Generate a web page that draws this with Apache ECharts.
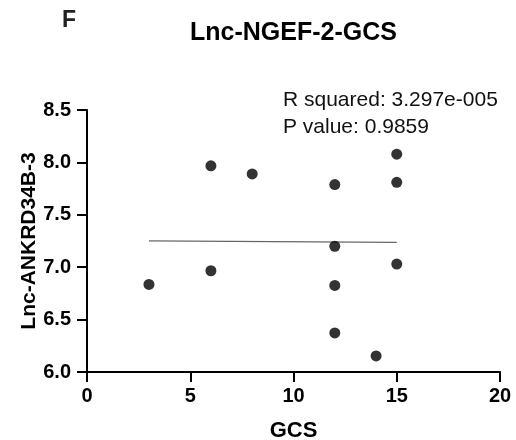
<!DOCTYPE html>
<html>
<head>
<meta charset="utf-8">
<script src="https://cdn.jsdelivr.net/npm/echarts@6/dist/echarts.min.js"></script>
<style>
html,body{margin:0;padding:0;background:#fff;}
#chart{width:516px;height:440px;}
</style>
</head>
<body>
<div id="chart"></div>
<script>
var gcsValues = [3, 6, 6, 8, 12, 12, 12, 12, 14, 15, 15, 15];
var lncValues = [6.836, 7.967, 6.966, 7.89, 7.788, 7.20, 6.826, 6.373, 6.153, 8.078, 7.81, 7.03];
var fitX = [3, 15];
var fitY = [7.252, 7.237];
var xTicks = [0, 5, 10, 15, 20];
var yTicks = [6.0, 6.5, 7.0, 7.5, 8.0, 8.5];
var panelLabel = 'F';
var chartTitle = 'Lnc-NGEF-2-GCS';
var statLines = ['R squared: 3.297e-005', 'P value: 0.9859'];
var xName = 'GCS';
var yName = 'Lnc-ANKRD34B-3';

var FONT = '"Liberation Sans", Arial, sans-serif';
var chart = echarts.init(document.getElementById('chart'), null, {renderer: 'canvas'});

var scatterData = gcsValues.map(function (x, i) { return [x, lncValues[i]]; });
var fitData = fitX.map(function (x, i) { return [x, fitY[i]]; });

function axisBase(nameSize) {
  return {
    axisLine: {show: true, lineStyle: {color: '#000', width: 2}},
    axisTick: {show: true, inside: false, length: 10, lineStyle: {color: '#000', width: 2}},
    splitLine: {show: false},
    nameLocation: 'middle',
    nameMoveOverlap: false,
    nameTextStyle: {fontFamily: FONT, fontWeight: 'bold', fontSize: nameSize, color: '#000'}
  };
}

chart.setOption({
  animation: false,
  backgroundColor: '#fff',
  grid: {left: 87, right: 16, top: 110, bottom: 68, containLabel: false, outerBoundsMode: 'none'},
  xAxis: Object.assign(axisBase(22), {
    type: 'value',
    min: xTicks[0],
    max: xTicks[xTicks.length - 1],
    interval: xTicks[1] - xTicks[0],
    name: xName,
    nameGap: 48,
    axisLabel: {fontFamily: FONT, fontWeight: 'bold', fontSize: 20, color: '#000', margin: 14}
  }),
  yAxis: Object.assign(axisBase(21), {
    type: 'value',
    min: yTicks[0],
    max: yTicks[yTicks.length - 1],
    interval: 0.5,
    name: yName,
    nameGap: 47,
    axisLabel: {fontFamily: FONT, fontWeight: 'bold', fontSize: 20, color: '#000', margin: 16,
      formatter: function (v) { return v.toFixed(1); }}
  }),
  graphic: [
    {type: 'text', x: 62, y: 21, style: {text: panelLabel, fontFamily: FONT, fontWeight: 'bold', fontSize: 23, fill: '#222', textAlign: 'left', textVerticalAlign: 'middle'}},
    {type: 'text', x: 293.5, y: 33, style: {text: chartTitle, fontFamily: FONT, fontWeight: 'bold', fontSize: 25, fill: '#000', textAlign: 'center', textVerticalAlign: 'middle'}},
    {type: 'text', x: 283, y: 100, style: {text: statLines[0], fontFamily: FONT, fontSize: 21, fill: '#111', textAlign: 'left', textVerticalAlign: 'middle'}},
    {type: 'text', x: 283, y: 127, style: {text: statLines[1], fontFamily: FONT, fontSize: 21, fill: '#111', textAlign: 'left', textVerticalAlign: 'middle'}}
  ],
  series: [
    {
      type: 'line',
      data: fitData,
      symbol: 'none',
      silent: true,
      lineStyle: {color: '#666', width: 1.2},
      z: 1
    },
    {
      type: 'scatter',
      data: scatterData,
      symbol: 'circle',
      symbolSize: 11,
      itemStyle: {color: '#000'},
      z: 2
    }
  ]
});
</script>
</body>
</html>
